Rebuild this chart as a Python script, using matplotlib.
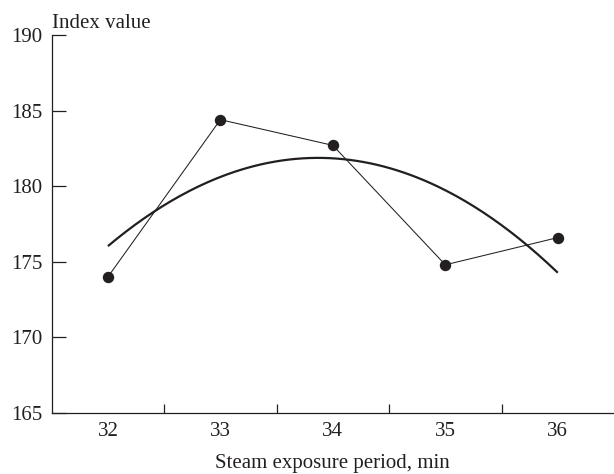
import numpy as np
import matplotlib
matplotlib.use("Agg")
import matplotlib.pyplot as plt

# Steam exposure period (min) and measured index values
periods = [32, 33, 34, 35, 36]
index_values = [174.0, 184.4, 182.7, 174.8, 176.6]
y_ticks = [165, 170, 175, 180, 185, 190]

INK = "#231f20"
plt.rcParams["font.family"] = ["Liberation Serif", "DejaVu Serif"]

fig = plt.figure(figsize=(6.14, 4.74), dpi=100)
ax = fig.add_axes([0.0842, 0.1287, 0.9158, 0.7975])

x = np.array(periods, dtype=float)
y = np.array(index_values)

# second-order polynomial trend line
coef = np.polyfit(x, y, 2)
xs = np.linspace(x.min(), x.max(), 200)
ax.plot(xs, np.polyval(coef, xs), color=INK, lw=1.6, solid_capstyle="butt", zorder=2)

# measured points joined by thin segments
ax.plot(x, y, color=INK, lw=0.75, marker="o", ms=7.2,
        markerfacecolor=INK, markeredgecolor=INK, zorder=3)

ax.set_xlim(31.5, 36.5)
ax.set_ylim(165, 190)

ax.set_xticks(periods)
ax.set_xticks([32.5, 33.5, 34.5, 35.5], minor=True)
ax.set_yticks(y_ticks)

ax.tick_params(axis="x", which="major", length=0, pad=6.5, labelsize=15, colors=INK)
ax.tick_params(axis="x", which="minor", direction="in", length=6.5, width=0.9, color=INK)
ax.tick_params(axis="y", which="major", direction="in", length=10, width=0.9, pad=6.5,
               labelsize=15, colors=INK)

for side in ("top", "right"):
    ax.spines[side].set_visible(False)
for side in ("left", "bottom"):
    ax.spines[side].set_linewidth(0.9)
    ax.spines[side].set_color(INK)
    ax.spines[side].set_clip_on(False)

ax.set_xlabel("Steam exposure period, min", fontsize=15, color=INK, labelpad=9)
ax.annotate("Index value", xy=(0, 1), xycoords="axes fraction",
            xytext=(0, 4.8), textcoords="offset points",
            ha="left", va="baseline", fontsize=15, color=INK)

fig.savefig("out.png", dpi=100)
